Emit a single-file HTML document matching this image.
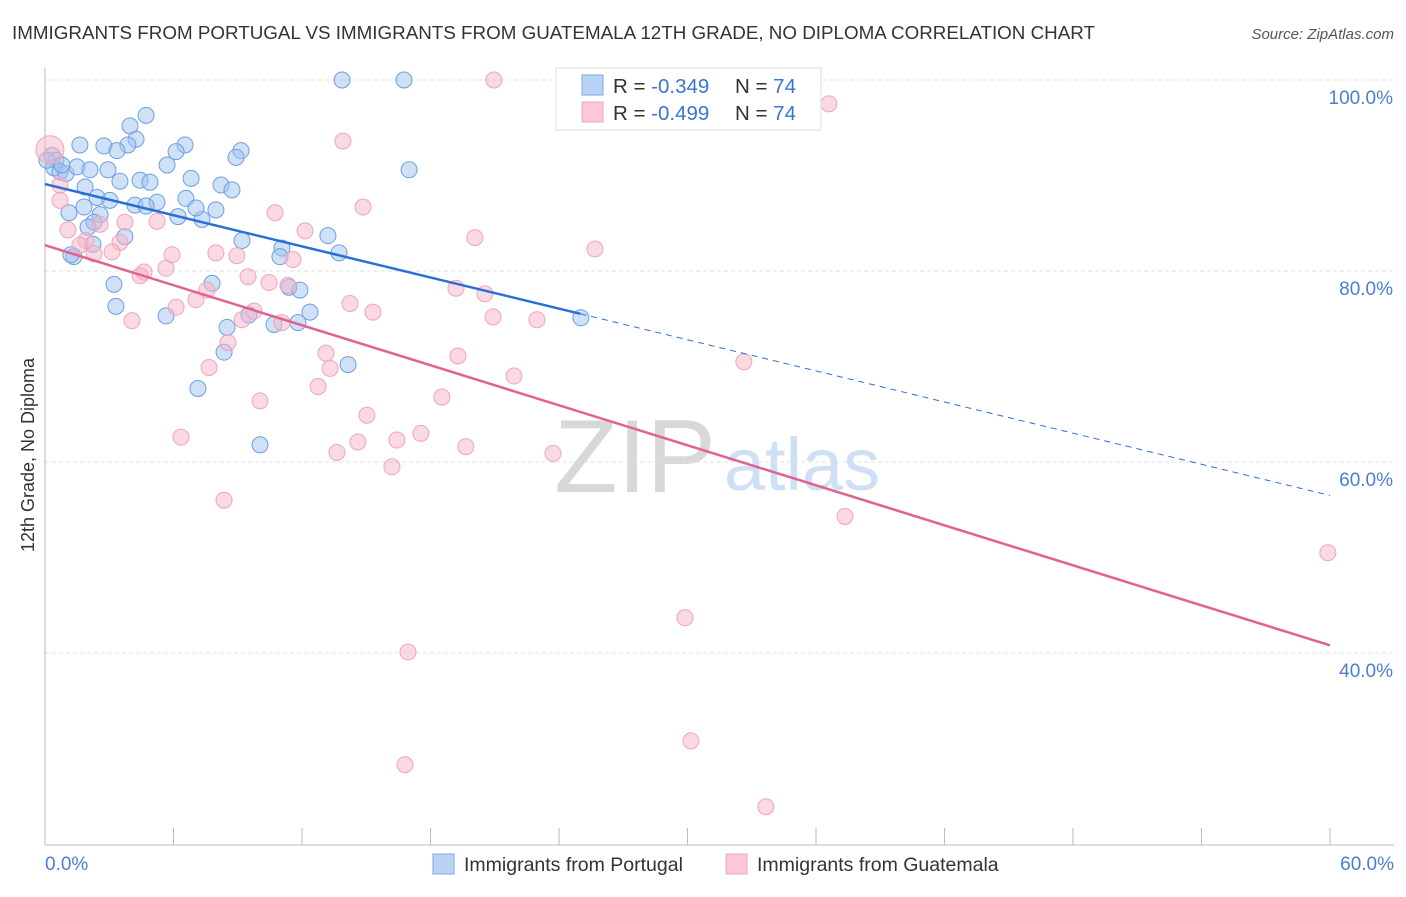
<!DOCTYPE html>
<html><head><meta charset="utf-8"><style>
body{margin:0;background:#fff;font-family:"Liberation Sans",sans-serif}
svg text{font-family:"Liberation Sans",sans-serif}
</style></head><body>
<svg id="chart" width="1406" height="892" xmlns="http://www.w3.org/2000/svg">
<text x="12" y="39" font-size="18" fill="#333" textLength="1083" lengthAdjust="spacingAndGlyphs">IMMIGRANTS FROM PORTUGAL VS IMMIGRANTS FROM GUATEMALA 12TH GRADE, NO DIPLOMA CORRELATION CHART</text>
<text x="1394" y="39" font-size="15" fill="#555" font-style="italic" text-anchor="end">Source: ZipAtlas.com</text>
<text x="635" y="492" font-size="104" fill="#d8d8d8" font-family="Liberation Serif" text-anchor="middle">ZIP</text>
<text x="802" y="490" font-size="74" fill="#cfe0f5" text-anchor="middle">atlas</text>
<g id="grid"></g><g id="ticks"></g><g id="pts"></g><g id="lines"></g>
<text transform="translate(34,455) rotate(-90)" font-size="18" fill="#333" text-anchor="middle">12th Grade, No Diploma</text>
<text x="45" y="870" font-size="19" fill="#4a7fd0">0.0%</text>
<text x="1394" y="870" font-size="19" fill="#4a7fd0" text-anchor="end">60.0%</text>
<g>
<rect x="556" y="68" width="265" height="62" fill="#fff" stroke="#ddd"/>
<rect x="582" y="75" width="21" height="20" fill="#b8d3f5" stroke="#7aa8e4"/>
<rect x="582" y="102" width="21" height="20" fill="#fcc8d6" stroke="#f0a8bc"/>
<text x="613" y="93" font-size="20.5" fill="#333">R = <tspan fill="#3a75d0">-0.349</tspan></text>
<text x="735" y="93" font-size="20.5" fill="#333">N = <tspan fill="#3a75d0">74</tspan></text>
<text x="613" y="120" font-size="20.5" fill="#333">R = <tspan fill="#3a75d0">-0.499</tspan></text>
<text x="735" y="120" font-size="20.5" fill="#333">N = <tspan fill="#3a75d0">74</tspan></text>
</g>
<g><rect x="433" y="854" width="21" height="20" fill="#b8d3f5" stroke="#7aa8e4"/><text x="464" y="871" font-size="19.5" fill="#333">Immigrants from Portugal</text></g>
<g><rect x="726" y="854" width="21" height="20" fill="#fcc8d6" stroke="#f0a8bc"/><text x="757" y="871" font-size="19.5" fill="#333">Immigrants from Guatemala</text></g>
</svg>
<script>
const yTicks=[100,80,60,40];
const yTickLabels=["100.0%","80.0%","60.0%","40.0%"];
const xTicks=[0,6,12,18,24,30,36,42,48,54,60];
const blueX=[13.87,16.76,4.72,3.97,1.63,2.75,6.54,4.25,3.87,9.15,3.36,6.12,8.92,0.33,0.51,0.42,0.70,0.98,1.49,2.94,5.70,17.0,4.44,6.82,4.90,3.50,8.22,1.87,8.73,2.43,6.58,4.20,5.23,4.72,1.82,1.12,2.57,6.21,7.33,7.05,7.98,2.29,2.01,9.20,13.21,11.06,2.24,10.97,13.73,1.35,3.22,7.80,11.39,11.90,3.31,5.65,8.50,9.52,12.37,10.69,11.81,25.02,8.36,14.15,7.14,10.04,3.73,1.21,0.09,0.79,2.1,3.03];
const blueY=[100,100,96.3,95.2,93.2,93.1,93.2,93.8,93.2,92.6,92.6,92.5,91.9,92.1,91.6,90.8,90.4,90.2,90.9,90.6,91.1,90.6,89.5,89.7,89.3,89.4,89.0,88.8,88.5,87.7,87.6,86.9,87.2,86.8,86.7,86.1,85.9,85.7,85.4,86.6,86.4,85.1,84.6,83.2,83.7,82.4,82.8,81.5,81.9,81.5,78.6,78.7,78.3,78.0,76.3,75.3,74.1,75.4,75.7,74.4,74.6,75.1,71.5,70.2,67.7,61.8,83.6,81.7,91.6,91.1,90.6,87.4];
const pinkX=[20.96,36.6,13.91,0.23,0.70,14.85,10.74,12.14,20.07,25.68,3.73,5.23,2.57,1.91,1.63,3.50,3.13,2.29,5.93,7.98,8.96,11.58,4.62,5.65,4.44,9.48,10.46,11.34,7.56,7.05,6.12,14.24,15.31,19.19,20.54,20.92,22.97,4.06,9.20,9.76,11.06,8.54,13.12,19.28,7.66,13.31,21.90,12.75,32.63,10.04,18.53,15.03,6.35,14.61,17.55,16.43,13.63,19.65,23.72,16.20,8.36,37.35,59.9,29.88,16.95,30.16,16.81,33.66,1.07,0.70];
const pinkY=[100,97.5,93.6,92.7,87.4,86.7,86.1,84.2,83.5,82.3,85.1,85.2,84.9,83.2,82.7,83.0,82.0,81.8,81.7,81.9,81.6,81.2,79.9,80.3,79.5,79.4,78.8,78.5,78.0,77.0,76.2,76.6,75.7,78.2,77.6,75.2,74.9,74.8,74.9,75.8,74.6,72.5,71.4,71.1,69.9,69.8,69.0,67.9,70.5,66.4,66.8,64.9,62.6,62.1,63.0,62.3,61.0,61.6,60.9,59.5,56.0,54.3,50.5,43.7,40.1,30.8,28.3,23.9,84.3,89.0];
const blueTrend=[89.1,56.5], blueSolidEnd=25.0;
const pinkTrend=[82.7,40.8];
const NS="http://www.w3.org/2000/svg";
const sx=v=>45+v*(1285/60), sy=v=>80+(100-v)*(191/20);
function mk(t,a,p){const e=document.createElementNS(NS,t);for(const k in a)e.setAttribute(k,a[k]);document.getElementById(p).appendChild(e);return e;}
yTicks.forEach((t,i)=>{
 const g=mk('line',{x1:45,x2:1394,y1:sy(t),y2:sy(t),stroke:'#e2e2e2','stroke-dasharray':'4,3'},'grid');
 
 
 const l=mk('text',{x:1393,y:sy(t)+24,'font-size':19,fill:'#4a7fd0','text-anchor':'end'},'grid');
 l.textContent=yTickLabels[i];
 
 
});
const ax=mk('line',{x1:45,x2:1394,y1:845,y2:845,stroke:'#bbb'},'ticks');


const ay=mk('line',{x1:45,x2:45,y1:68,y2:845,stroke:'#bbb'},'ticks');


xTicks.forEach(t=>{
 const e=mk('line',{x1:sx(t),x2:sx(t),y1:828,y2:845,stroke:'#bbb'},'ticks');
 
 
});
blueX.forEach((x,i)=>{
 const c=mk('circle',{cx:sx(x),cy:sy(blueY[i]),r:8,fill:'rgba(160,196,240,0.5)',stroke:'#6c9fe0','stroke-width':1},'pts');
 
 
});
pinkX.forEach((x,i)=>{
 const c=mk('circle',{cx:sx(x),cy:sy(pinkY[i]),r:i==3?14:8,fill:'rgba(248,180,200,0.5)',stroke:'#f0a4bb','stroke-width':1},'pts');
 
 
});
const by=x=>blueTrend[0]+(blueTrend[1]-blueTrend[0])*x/60;
const b1=mk('line',{x1:sx(0),y1:sy(by(0)),x2:sx(blueSolidEnd),y2:sy(by(blueSolidEnd)),stroke:'#2a6fd6','stroke-width':2.5},'lines');


const b2=mk('line',{x1:sx(blueSolidEnd),y1:sy(by(blueSolidEnd)),x2:sx(60),y2:sy(by(60)),stroke:'#2a6fd6','stroke-width':1,'stroke-dasharray':'6,5'},'lines');


const p1=mk('line',{x1:sx(0),y1:sy(pinkTrend[0]),x2:sx(60),y2:sy(pinkTrend[1]),stroke:'#e0628f','stroke-width':2.5},'lines');


</script>
</body></html>
